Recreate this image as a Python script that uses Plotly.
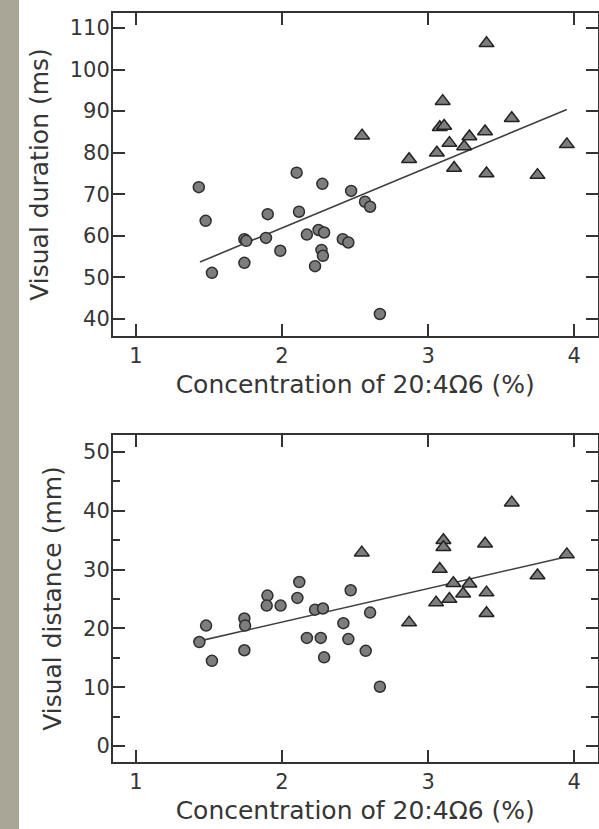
import plotly.graph_objects as go

# ---- data -------------------------------------------------------------
# circles: lower-concentration group, triangles: higher-concentration group
dur_circ_x = [1.43, 1.477, 1.52, 1.742, 1.755, 1.742, 1.902, 1.89, 1.988, 2.10,
              2.116, 2.276, 2.17, 2.25, 2.288, 2.27, 2.28, 2.226, 2.416, 2.454,
              2.473, 2.568, 2.603, 2.67]
dur_circ_y = [71.7, 63.6, 51.1, 59.2, 58.8, 53.5, 65.2, 59.5, 56.4, 75.2,
              65.8, 72.5, 60.3, 61.4, 60.8, 56.6, 55.2, 52.7, 59.2, 58.4,
              70.8, 68.2, 67.0, 41.2]
dur_tri_x = [2.548, 2.87, 3.06, 3.10, 3.08, 3.11, 3.178, 3.146, 3.247, 3.283,
             3.39, 3.40, 3.40, 3.573, 3.749, 3.95]
dur_tri_y = [84.1, 78.4, 80.0, 92.4, 86.1, 86.4, 76.3, 82.3, 81.5, 83.9,
             85.1, 106.3, 75.0, 88.3, 74.6, 82.0]
dur_fit_x = [1.438, 3.95]
dur_fit_y = [53.7, 90.4]

dist_circ_x = [1.434, 1.48, 1.52, 1.742, 1.747, 1.742, 1.90, 1.895, 1.99, 2.118,
               2.105, 2.226, 2.28, 2.17, 2.265, 2.288, 2.47, 2.42, 2.454, 2.603,
               2.573, 2.67]
dist_circ_y = [17.7, 20.5, 14.5, 21.7, 20.5, 16.3, 25.6, 23.9, 23.9, 27.9,
               25.2, 23.2, 23.4, 18.4, 18.4, 15.1, 26.5, 20.9, 18.2, 22.7,
               16.2, 10.1]
dist_tri_x = [2.546, 2.87, 3.055, 3.08, 3.105, 3.105, 3.146, 3.173, 3.24, 3.283,
              3.40, 3.39, 3.40, 3.573, 3.749, 3.95]
dist_tri_y = [32.9, 21.0, 24.4, 30.1, 35.0, 33.8, 25.0, 27.7, 25.9, 27.6,
              26.1, 34.4, 22.6, 41.4, 29.0, 32.6]
dist_fit_x = [1.438, 3.95]
dist_fit_y = [17.9, 32.2]

x_ticks = [1, 2, 3, 4]
dur_ticks = [40, 50, 60, 70, 80, 90, 100, 110]
dist_ticks = [0, 10, 20, 30, 40, 50]

# ---- styling ----------------------------------------------------------
W, H = 599, 829
FONT = "DejaVu Sans"
INK = "#333333"
TEXT = "#363636"

circle_style = dict(symbol="circle", size=11, color="#7d7d7d",
                    line=dict(color="#2e2e2e", width=1.5))
tri_style = dict(symbol="triangle-up", size=13, color="#7d7d7d",
                 line=dict(color="#222222", width=1.5))
fit_style = dict(color="#404040", width=1.6)

fig = go.Figure()

panels = [
    ("x", "y", dur_circ_x, dur_circ_y, dur_tri_x, dur_tri_y, dur_fit_x, dur_fit_y),
    ("x2", "y2", dist_circ_x, dist_circ_y, dist_tri_x, dist_tri_y, dist_fit_x, dist_fit_y),
]
for xa, ya, cx, cy, tx, ty, fx, fy in panels:
    fig.add_trace(go.Scatter(x=fx, y=fy, mode="lines", line=fit_style,
                             xaxis=xa, yaxis=ya, showlegend=False, hoverinfo="skip"))
    fig.add_trace(go.Scatter(x=cx, y=cy, mode="markers", marker=circle_style,
                             xaxis=xa, yaxis=ya, showlegend=False))
    fig.add_trace(go.Scatter(x=tx, y=ty, mode="markers", marker=tri_style,
                             xaxis=xa, yaxis=ya, showlegend=False))

x_left, x_right = 113 / W, 597.5 / W
top_dom = [1 - 336 / H, 1 - 13 / H]
bot_dom = [1 - 762 / H, 1 - 435 / H]

common_axis = dict(showline=True, linecolor=INK, linewidth=2, mirror="ticks",
                   ticks="inside", ticklen=12, tickwidth=2, tickcolor=INK,
                   showgrid=False, zeroline=False,
                   tickfont=dict(family=FONT, size=21, color=TEXT))
title_font = dict(family=FONT, size=25, color=TEXT)

x_common = dict(common_axis, tickvals=x_ticks, range=[0.8425, 4.16],
                domain=[x_left, x_right])

fig.update_layout(
    width=W, height=H,
    margin=dict(l=0, r=0, t=0, b=0),
    paper_bgcolor="white", plot_bgcolor="white",
    xaxis=dict(x_common, anchor="y",
               title=dict(text="Concentration of 20:4Ω6 (%)", font=title_font, standoff=8)),
    yaxis=dict(common_axis, tickvals=dur_ticks, range=[35.9, 113.6], domain=top_dom,
               anchor="x", ticklabelstandoff=-3,
               title=dict(text="Visual duration (ms)", font=title_font, standoff=14)),
    xaxis2=dict(x_common, anchor="y2",
                title=dict(text="Concentration of 20:4Ω6 (%)", font=title_font, standoff=8)),
    yaxis2=dict(common_axis, tickvals=dist_ticks, range=[-2.7, 52.9], domain=bot_dom,
                anchor="x2", ticklabelstandoff=-3,
                minor=dict(ticks="inside", ticklen=7, tickwidth=2, tickcolor=INK, dtick=5,
                           showgrid=False),
                title=dict(text="Visual distance (mm)", font=title_font, standoff=14)),
    shapes=[dict(type="rect", xref="paper", yref="paper", x0=0, x1=19 / W, y0=0, y1=1,
                 fillcolor="#a9a697", line=dict(width=0), layer="below")],
)

fig.write_html("out.html")
